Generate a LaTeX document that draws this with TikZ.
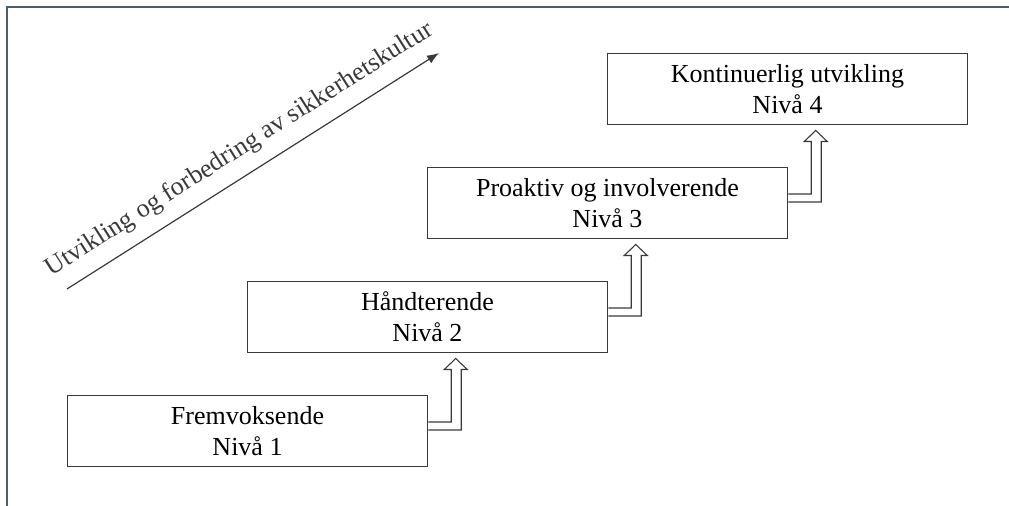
\documentclass[tikz,border=0pt]{standalone}
\usepackage{fontspec}
\setmainfont{Liberation Serif}
\usetikzlibrary{calc,arrows.meta}
\definecolor{framegray}{HTML}{4E5E66}
\definecolor{linegray}{HTML}{3A3A3A}

\begin{document}
\begin{tikzpicture}[x=0.5pt,y=-0.5pt]
    \tikzstyle{every node}=[font=\fontsize{13}{15.5}\selectfont]
    \tikzstyle{stepbox}=[draw=linegray, line width=.75pt, minimum width=180pt, minimum height=35.5pt, align=center, inner sep=0]
    \tikzstyle{bentarrow}=[draw=linegray, line width=.55pt, line join=miter]
    \useasboundingbox (0,0) rectangle (1009,506);
    % outer frame, top and left only
    \draw[framegray, line width=1pt] (1009,7) -- (7,7) -- (7,506);
    % the four levels, one step up and to the right each
    \node[stepbox] (N1) at (247.5,431) {Fremvoksende\\Nivå 1};
    \node[stepbox] (N2) at ($(N1)+(180,-114)$) {Håndterende\\Nivå 2};
    \node[stepbox] (N3) at ($(N2)+(180,-114)$) {Proaktiv og involverende\\Nivå 3};
    \node[stepbox] (N4) at ($(N3)+(180,-114)$) {Kontinuerlig utvikling\\Nivå 4};
    % hollow bent arrows between the levels
    \foreach \lvl in {N1,N2,N3}
        \draw[bentarrow] ($(\lvl.east)+(0,-9)$) -- ++(23,0) -- ++(0,-52.5) -- ++(-7,0)
            -- ++(11.5,-11) -- ++(11.5,11) -- ++(-6,0) -- ++(0,60.5) -- ++(-33,0);
    % direction of development
    \coordinate (D0) at (67,289);
    \coordinate (D1) at (439,53);
    \draw[linegray, line width=.6pt, -{Latex[length=6pt,width=4.5pt]}] (D0) -- (D1)
        node[midway, sloped, above=3pt] {Utvikling og forbedring av sikkerhetskultur};
\end{tikzpicture}
\end{document}
